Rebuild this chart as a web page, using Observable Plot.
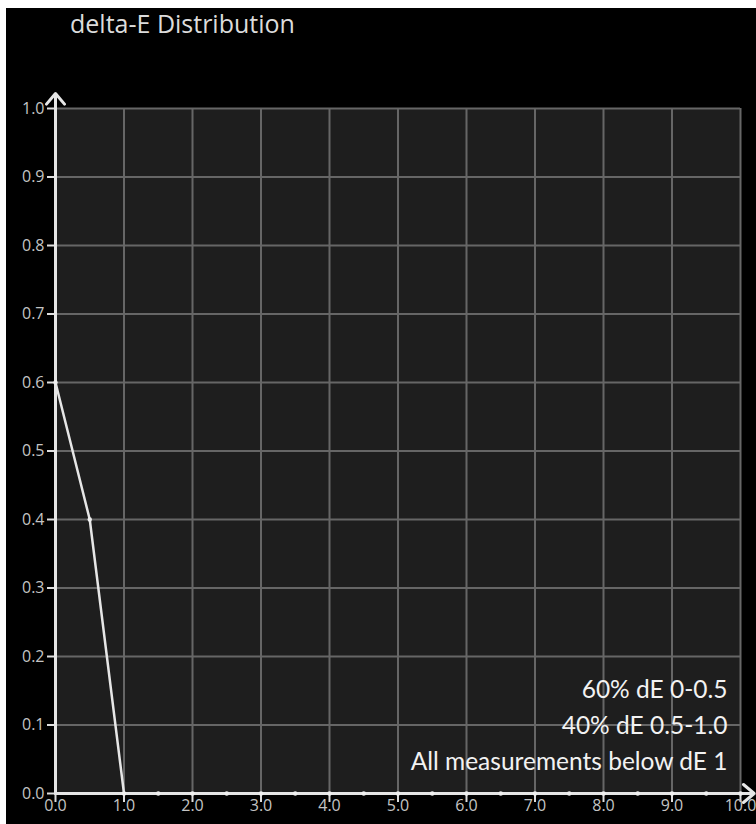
<!DOCTYPE html>
<html>
<head>
<meta charset="utf-8">
<script src="https://cdn.jsdelivr.net/npm/d3@7"></script>
<script src="https://cdn.jsdelivr.net/npm/@observablehq/plot@0.6"></script>
<style>
  body { margin: 0; background: #fff; }
  #box { position: absolute; left: 6px; top: 8px; width: 750px; height: 816px; background: #000; }
  #title { position: absolute; left: 64px; top: -2px; font-family: "Open Sans", sans-serif; font-size: 25px; color: #dcdcdc; white-space: nowrap; }
  #chart { position: absolute; left: 0; top: 60px; }
</style>
</head>
<body>
<div id="box">
  <div id="title">delta-E Distribution</div>
  <div id="chart"></div>
</div>
<script>
// Data
const dE = [0.0, 0.5, 1.0, 1.5, 2.0, 2.5, 3.0, 3.5, 4.0, 4.5, 5.0, 5.5, 6.0, 6.5, 7.0, 7.5, 8.0, 8.5, 9.0, 9.5, 10.0];
const share = [0.6, 0.4, 0, 0, 0, 0, 0, 0, 0, 0, 0, 0, 0, 0, 0, 0, 0, 0, 0, 0, 0];
const xTicks = [0, 1, 2, 3, 4, 5, 6, 7, 8, 9, 10];
const yTicks = [0, 0.1, 0.2, 0.3, 0.4, 0.5, 0.6, 0.7, 0.8, 0.9, 1.0];
const notes = ["60% dE 0-0.5", "40% dE 0.5-1.0", "All measurements below dE 1"];

const points = dE.map((x, i) => ({x, y: share[i]}));
const xMax = xTicks[xTicks.length - 1];
const yMax = yTicks[yTicks.length - 1];
const axes = [
  {x1: 0, y1: 0, x2: 0, y2: yMax * 1.022},
  {x1: 0, y1: 0, x2: xMax * 1.02, y2: 0}
];

const chart = Plot.plot({
  width: 750,
  height: 756,
  marginLeft: 49,
  marginRight: 16,
  marginTop: 40,
  marginBottom: 31,
  style: {background: "transparent", fontFamily: "'Open Sans', sans-serif"},
  x: {domain: [0, xMax]},
  y: {domain: [0, yMax]},
  marks: [
    Plot.frame({fill: "#1e1e1e", stroke: null}),
    Plot.ruleX(xTicks, {stroke: "#666666", strokeWidth: 2}),
    Plot.ruleY(yTicks, {stroke: "#666666", strokeWidth: 2}),
    Plot.axisY({ticks: yTicks, tickFormat: d => d.toFixed(1), tickSize: 8, tickPadding: 3, fontSize: 16, stroke: "#dddddd", strokeWidth: 2, fill: "#c4c4c4", label: null}),
    Plot.axisX({ticks: xTicks, tickFormat: d => d.toFixed(1), tickSize: 9, tickPadding: -3, fontSize: 16, stroke: "#dddddd", strokeWidth: 2, fill: "#c4c4c4", label: null}),
    Plot.arrow(axes, {x1: "x1", y1: "y1", x2: "x2", y2: "y2", stroke: "#e6e6e6", strokeWidth: 3, headAngle: 80, headLength: 7}),
    Plot.line(points, {x: "x", y: "y", stroke: "#e6e6e6", strokeWidth: 2.5}),
    Plot.dot(points, {x: "x", y: "y", r: 2.2, fill: "#f0f0f0"}),
    Plot.text([notes.join("\n")], {frameAnchor: "bottom-right", text: d => d, textAnchor: "end", lineAnchor: "bottom", lineHeight: 1.45, fontSize: 24.5, fontFamily: "Lato, sans-serif", fill: "#f2f2f2", dx: -13, dy: -24})
  ]
});
document.getElementById("chart").appendChild(chart);
</script>
</body>
</html>
